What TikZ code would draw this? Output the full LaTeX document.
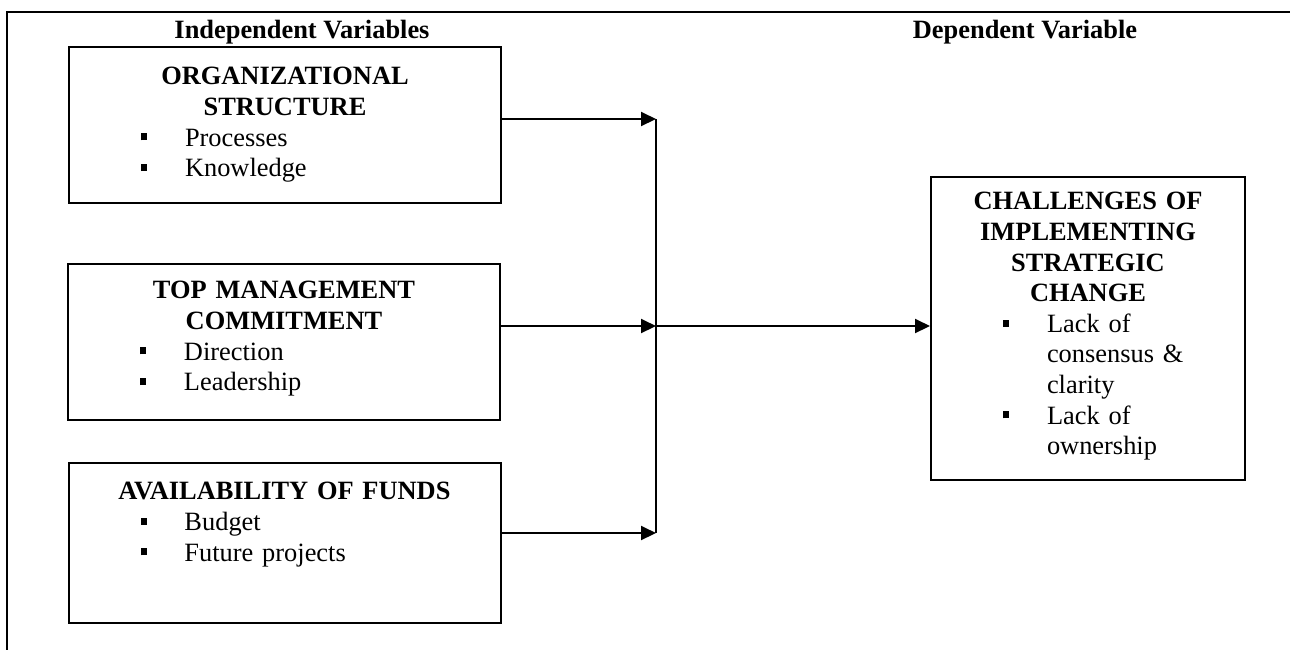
\documentclass[tikz,border=0pt]{standalone}
\usepackage{fontspec}
\setmainfont{Liberation Serif}
\usetikzlibrary{arrows.meta,positioning}

\newcommand{\itm}[1]{\par\noindent\raggedright\hangindent=58pt\hangafter=1%
  \makebox[58pt][l]{\hspace*{36pt}\rule[2.8pt]{3pt}{3.5pt}}#1\par}

\tikzset{
  box/.style={draw, line width=1pt, inner sep=0pt},
  txt/.style={inner sep=0pt, anchor=north, font=\fontsize{13.2}{15.3}\selectfont},
  hdr/.style={inner sep=0pt, font=\fontsize{13.2}{15.3}\selectfont\bfseries},
  arr/.style={line width=1pt, -{Triangle[length=7.5pt,width=7pt]}},
}

\begin{document}
\begin{tikzpicture}[x=0.5pt, y=-0.5pt]
\useasboundingbox (0,0) rectangle (1290,650);
% frame
\draw[line width=1pt] (1290,12) -- (7,12) -- (7,650);
% column titles
\node[hdr] (indep) at (302,32) {Independent Variables};
\node[hdr] (dep) at (1025,32) {Dependent Variable};
% independent variables
\node[box, minimum width=216pt, minimum height=78pt] (org) at (285,125) {};
\node[txt, text width=216pt, below=10.5pt of org.north] (orgtxt)
  {{\centering\bfseries ORGANIZATIONAL\\STRUCTURE\par}\itm{Processes}\itm{Knowledge}};
\node[box, minimum width=216pt, minimum height=78pt] (top) at (284,342) {};
\node[txt, text width=216pt, below=9pt of top.north] (toptxt)
  {{\centering\bfseries TOP MANAGEMENT\\COMMITMENT\par}\itm{Direction}\itm{Leadership}};
\node[box, minimum width=216pt, minimum height=80pt] (funds) at (284.5,543) {};
\node[txt, text width=216pt, below=10pt of funds.north] (fundstxt)
  {{\centering\bfseries AVAILABILITY OF FUNDS\par}\itm{Budget}\itm{Future projects}};
% dependent variable
\node[box, minimum width=157pt, minimum height=151.5pt] (chal) at (1088,328.5) {};
\node[txt, text width=157pt, below=8pt of chal.north] (chaltxt)
  {{\centering\bfseries CHALLENGES OF\\IMPLEMENTING\\STRATEGIC\\CHANGE\par}%
   \itm{Lack of\newline consensus \&\newline clarity}\itm{Lack of\newline ownership}};
% connectors
\coordinate (j1) at (656,119);
\coordinate (j2) at (656,326);
\coordinate (j3) at (656,533);
\draw[arr] (org.east |- j1) -- (j1);
\draw[arr] (top.east |- j2) -- (j2);
\draw[arr] (funds.east |- j3) -- (j3);
\draw[line width=1pt] (j1) -- (j3);
\draw[arr] (j2) -- (chal.west |- j2);
\end{tikzpicture}
\end{document}
